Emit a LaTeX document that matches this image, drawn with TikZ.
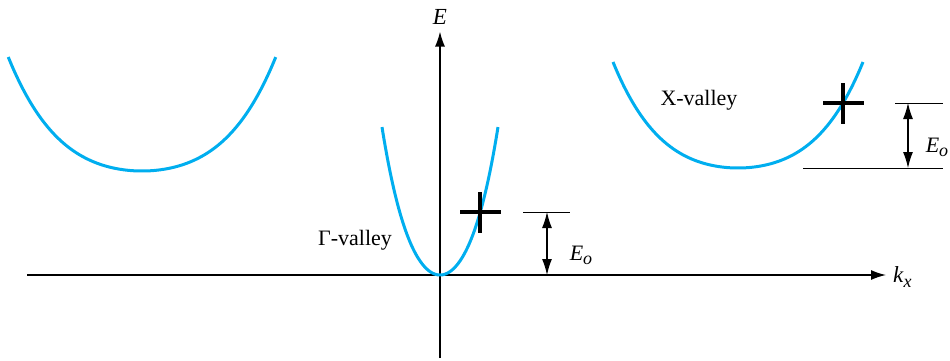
\documentclass[tikz,border=0pt]{standalone}
\usepackage{fontspec}
\setmainfont{Liberation Serif}
\usetikzlibrary{arrows.meta}
\definecolor{valleyblue}{RGB}{0,174,239}
\newcommand{\subidx}[1]{\raisebox{-0.4ex}{\fontsize{9}{10}\selectfont\textit{#1}}}
\tikzset{
    axisline/.style={-{Latex[length=7.5pt,width=5pt]}, line width=0.7pt},
    valleycurve/.style={valleyblue, line width=1.5pt, smooth, samples=80},
    crossmark/.style={line width=1.7pt},
    levelline/.style={line width=0.5pt},
    levelarrow/.style={{Latex[length=8pt,width=5pt]}-{Latex[length=8pt,width=5pt]}, line width=0.6pt},
    valleylabel/.style={font=\fontsize{11}{13}\selectfont},
    axislabel/.style={font=\fontsize{11.5}{14}\selectfont}
}

\begin{document}
\begin{tikzpicture}[x=0.5pt, y=-0.5pt]
\useasboundingbox (0,0) rectangle (950,360);
\coordinate (origin) at (440,275);
\coordinate (kstart) at (27,275);
\coordinate (estart) at (440,358);
\node[axislabel, anchor=west] (kx) at (886,277) {\textit{k}\subidx{x}};
\node[axislabel] (E) at (440,17) {\textit{E}};
\draw[axisline] (kstart) -- (kstart -| kx.west);
\draw[axisline] (estart) -- (E.south);

\draw[valleycurve, domain=-6.25:6.25] plot ({142+21.4*\x},{171-1.075*(1.507*\x*\x+0.0309*\x*\x*\x*\x)});
\draw[valleycurve, domain=-5.8:5.8] plot ({440+10*\x},{275-(3.40*\x*\x+0.02966*\x*\x*\x*\x)});
\draw[valleycurve, domain=-6.25:6.25] plot ({738+20*\x},{168-(1.507*\x*\x+0.0309*\x*\x*\x*\x)});

\coordinate (gcross) at (480,212);
\coordinate (xcross) at (843,103);
\draw[crossmark] (gcross) ++(-20,0) -- ++(41,0) (gcross) ++(0,-20) -- ++(0,41);
\draw[crossmark] (xcross) ++(-20,0) -- ++(41,0) (xcross) ++(0,-20) -- ++(0,41);

\coordinate (gtop) at (547,212);
\draw[levelline] (gtop) ++(-24,0) -- ++(47,0);
\draw[levelarrow] (gtop) -- (gtop |- origin);
\node[valleylabel] (geo) at (581,255) {\textit{E}\subidx{o}};

\coordinate (xtop) at (908,103);
\coordinate (xbase) at (908,168);
\draw[levelline] (xtop) ++(-13,0) -- ++(48,0);
\draw[levelline] (xbase) ++(-105,0) -- ++(140,0);
\draw[levelarrow] (xtop) -- (xbase);
\node[valleylabel] (xeo) at (937,147) {\textit{E}\subidx{o}};

\node[valleylabel] (gamma) at (355,240) {Γ-valley};
\node[valleylabel] (xvalley) at (699,100) {X-valley};
\end{tikzpicture}
\end{document}
